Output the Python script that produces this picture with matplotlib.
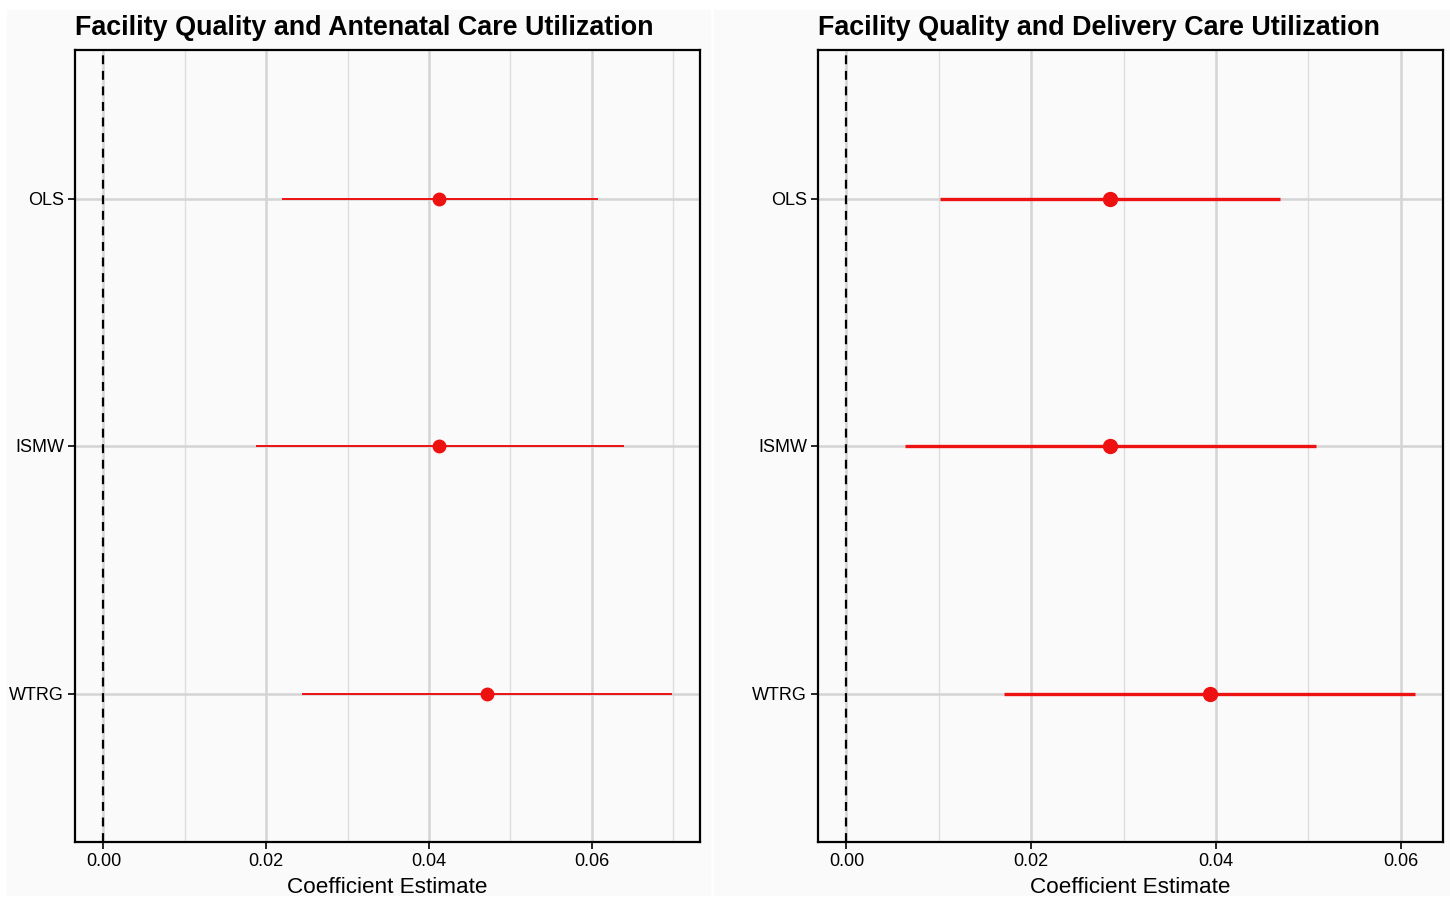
import matplotlib.pyplot as plt
from matplotlib.patches import Rectangle
from matplotlib.ticker import MultipleLocator

plt.rcParams['font.family'] = ['Liberation Sans', 'DejaVu Sans']

models = ['WTRG', 'ISMW', 'OLS']

anc_est = [0.0471, 0.0412, 0.0412]
anc_low = [0.0244, 0.0188, 0.0220]
anc_high = [0.0698, 0.0639, 0.0607]

del_est = [0.0394, 0.0285, 0.0285]
del_low = [0.0171, 0.0063, 0.0101]
del_high = [0.0615, 0.0508, 0.0469]

titles = ['Facility Quality and Antenatal Care Utilization',
          'Facility Quality and Delivery Care Utilization']

fig = plt.figure(figsize=(14.5, 8.99), dpi=100)
fig.patch.set_facecolor('white')
# light grey backing of each panel image
fig.patches.append(Rectangle((7 / 1450, 1 - 895 / 899), 703 / 1450, 885 / 899,
                             transform=fig.transFigure, color='#fafafa', zorder=-5))
fig.patches.append(Rectangle((714 / 1450, 1 - 895 / 899), 736 / 1450, 885 / 899,
                             transform=fig.transFigure, color='#fafafa', zorder=-5))

panels = [(anc_est, anc_low, anc_high, 75, 1.4, 9),
          (del_est, del_low, del_high, 818, 2.4, 10)]

for i, (est, low, high, left_px, lw, ms) in enumerate(panels):
    ax = fig.add_axes([left_px / 1450, 1 - 842 / 899, 625 / 1450, 792 / 899])
    ax.set_facecolor('#fafafa')
    ypos = list(range(1, len(models) + 1))
    ax.hlines(ypos, low, high, color='#ee1111', lw=lw, zorder=3)
    ax.plot(est, ypos, 'o', color='#ee1111', ms=ms, zorder=4)
    ax.axvline(0, color='black', ls=(0, (4, 3)), lw=1.6, zorder=2)

    span = max(high)
    ax.set_xlim(-0.05 * span, span * 1.05)
    ax.set_ylim(0.4, 3.6)
    ax.set_yticks(ypos)
    ax.set_yticklabels(models)
    ax.xaxis.set_major_locator(MultipleLocator(0.02))
    ax.xaxis.set_minor_locator(MultipleLocator(0.01))
    ax.xaxis.set_major_formatter(lambda v, p: f'{v:.2f}')
    ax.grid(which='major', color='#d4d4d4', lw=1.8, zorder=1)
    ax.grid(which='minor', axis='x', color='#dedede', lw=1.0, zorder=1)
    ax.set_axisbelow(True)
    ax.tick_params(which='minor', length=0)
    ax.tick_params(which='major', length=5, width=1.2, labelsize=13, pad=3)
    for s in ax.spines.values():
        s.set_linewidth(1.6)
    ax.set_xlabel('Coefficient Estimate', fontsize=16.2, labelpad=5)
    ax.set_title(titles[i], loc='left', fontsize=19.4, fontweight='bold', pad=11)

fig.savefig('out.png', dpi=100)
